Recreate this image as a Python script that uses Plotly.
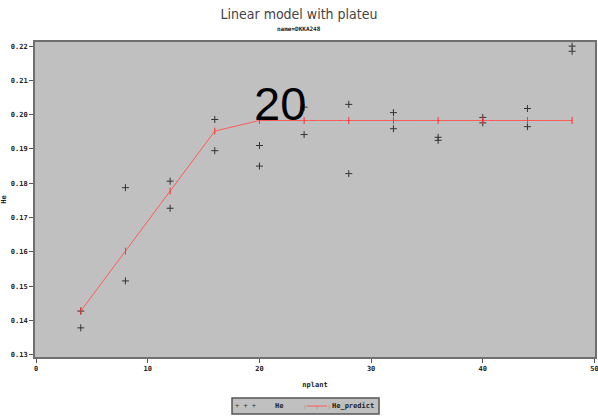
import plotly.graph_objects as go

# data
nplant_obs = [4, 4, 8, 8, 12, 12, 16, 16, 20, 20, 24, 24, 28, 28, 32, 32, 36, 36, 40, 40, 44, 44, 48, 48]
he_obs = [0.1427, 0.1378, 0.1787, 0.1515, 0.1806, 0.1727, 0.1986, 0.1895, 0.1910, 0.1850,
          0.2022, 0.1942, 0.2030, 0.1828, 0.2006, 0.1959, 0.1934, 0.1925, 0.1992, 0.1976,
          0.2018, 0.1965, 0.2200, 0.2185]
nplant_pred = [4, 8, 12, 16, 20, 24, 28, 32, 36, 40, 44, 48]
he_pred = [0.1427, 0.1602, 0.1777, 0.1952, 0.1983, 0.1983, 0.1983, 0.1983, 0.1983, 0.1983, 0.1983, 0.1983]
x_ticks = [0, 10, 20, 30, 40, 50]
y_ticks = [0.13, 0.14, 0.15, 0.16, 0.17, 0.18, 0.19, 0.20, 0.21, 0.22]
title_text = "Linear model with plateu"
subtitle_text = "name=DKKA248"
big_label = "20"
legend_names = ["He", "He_predict"]

obs_color = "#333333"
pred_color = "#FF5A5A"
tickfont = dict(family="DejaVu Sans Mono", size=7, color="#222222", weight="bold")
smallfont = dict(family="DejaVu Sans Mono", size=7, color="#222222", weight="bold")

fig = go.Figure()
fig.add_trace(go.Scatter(
    x=nplant_obs, y=he_obs, mode="markers", name=legend_names[0],
    marker=dict(symbol="cross-thin-open", size=5, color=obs_color,
                line=dict(width=1, color=obs_color)),
))
fig.add_trace(go.Scatter(
    x=nplant_pred, y=he_pred, mode="lines+markers", name=legend_names[1],
    line=dict(color=pred_color, width=1),
    marker=dict(symbol="line-ns-open", size=5, color="#FF3030",
                line=dict(width=1, color="#FF3030")),
))

fig.add_annotation(x=21.85, y=0.2033, text=big_label, showarrow=False,
                   xanchor="center", yanchor="middle",
                   font=dict(family="Liberation Sans", size=47, color="black"))

fig.add_annotation(xref="paper", yref="paper", x=0.472, y=1.0, yanchor="bottom",
                   yshift=8, text=subtitle_text, showarrow=False,
                   font=dict(family="DejaVu Sans Mono", size=6, color="#222222", weight="bold"))

# legend drawn as a framed box below the plot (paper coordinates)
fig.add_shape(type="rect", xref="paper", yref="paper", x0=0.3518, x1=0.6143, y0=-0.1302, y1=-0.181,
              fillcolor="#C0C0C0", line=dict(color="#555555", width=1.5), layer="above")
fig.add_annotation(xref="paper", yref="paper", x=0.375, y=-0.1556, text="+ + +", showarrow=False,
                   xanchor="center", yanchor="middle", font=dict(family="DejaVu Sans Mono", size=7, color=obs_color))
fig.add_annotation(xref="paper", yref="paper", x=0.425, y=-0.1556, text=legend_names[0], showarrow=False,
                   xanchor="left", yanchor="middle", font=smallfont)
fig.add_shape(type="line", xref="paper", yref="paper", x0=0.4857, x1=0.5214, y0=-0.1556, y1=-0.1556,
              line=dict(color=pred_color, width=1), layer="above")
fig.add_annotation(xref="paper", yref="paper", x=0.5036, y=-0.1556, text="|    |    |", showarrow=False,
                   xanchor="center", yanchor="middle", font=dict(family="DejaVu Sans Mono", size=4, color="#FF3030"))
fig.add_annotation(xref="paper", yref="paper", x=0.5268, y=-0.1556, text=legend_names[1], showarrow=False,
                   xanchor="left", yanchor="middle", font=smallfont)

fig.update_layout(
    width=598, height=417,
    margin=dict(l=35, r=3, t=42, b=60),
    paper_bgcolor="white",
    plot_bgcolor="#C0C0C0",
    title=dict(text=title_text, x=0.5, xanchor="center", y=0.967, yanchor="middle",
               font=dict(family="DejaVu Sans Condensed, DejaVu Sans", size=14, color="#444444")),
    showlegend=False,
    xaxis=dict(range=[-0.1, 50.05], tickvals=x_ticks, ticktext=[str(v) for v in x_ticks],
               ticks="outside", ticklen=4, tickcolor="#555555", tickfont=tickfont,
               ticklabeloverflow="allow",
               showgrid=False, zeroline=False, showline=True, linecolor="#707070",
               linewidth=2, mirror=True, automargin=False,
               title=dict(text="nplant", font=smallfont, standoff=10)),
    yaxis=dict(range=[0.1293, 0.2212], tickvals=y_ticks, ticktext=["%.2f" % v for v in y_ticks],
               ticks="outside", ticklen=4, tickcolor="#555555", tickfont=tickfont,
               showgrid=False, zeroline=False, showline=True, linecolor="#707070",
               linewidth=2, mirror=True, automargin=False,
               title=dict(text="He", font=smallfont, standoff=4)),
)

fig.write_html("out.html")
